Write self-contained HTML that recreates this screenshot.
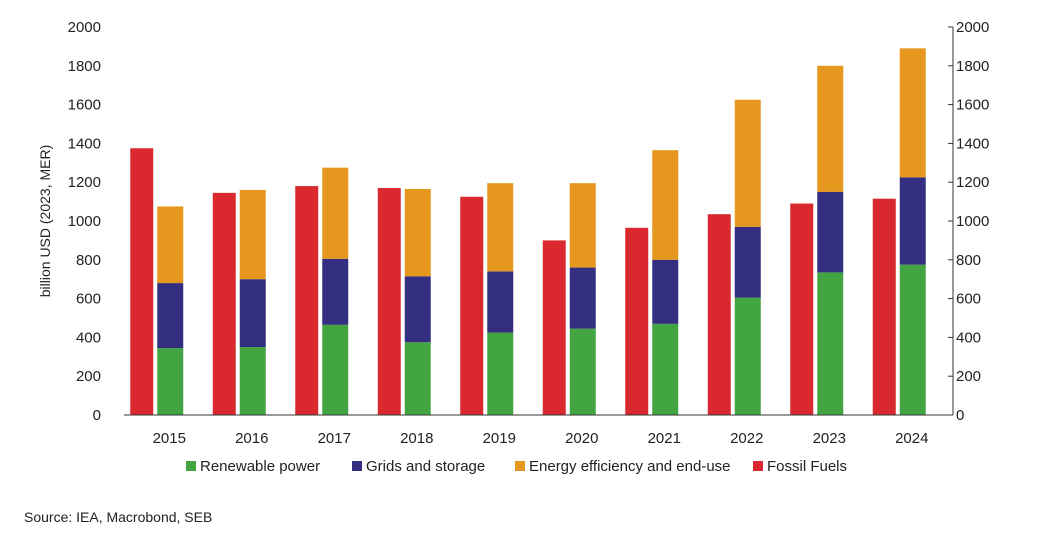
<!DOCTYPE html>
<html><head><meta charset="utf-8"><style>
body{margin:0;background:#fff;font-family:"Liberation Sans",sans-serif;}
svg text{font-family:"Liberation Sans",sans-serif;fill:#222;}
</style></head><body>
<svg id="c" width="1050" height="534"></svg>
<script>
const years=["2015","2016","2017","2018","2019","2020","2021","2022","2023","2024"];
const fossil=[1375,1145,1180,1170,1125,900,965,1035,1090,1115];
const renewable=[345,350,465,375,425,445,470,605,735,775];
const grids=[335,350,340,340,315,315,330,365,415,450];
const efficiency=[395,460,470,450,455,435,565,655,650,665];
const ticks=[0,200,400,600,800,1000,1200,1400,1600,1800,2000];
const NS="http://www.w3.org/2000/svg";
const svg=document.getElementById('c');
const L=128,R=953,T=27,B=415;
const y=v=>B-(v/2000)*(B-T);
const step=(R-L)/years.length;
function mk(t,a,p){const e=document.createElementNS(NS,t);for(const k in a)e.setAttribute(k,a[k]);(p||svg).appendChild(e);return e;}
const C={f:"#d9292f",r:"#42a541",g:"#332e7f",e:"#e5971e"};
ticks.forEach(t=>{
 let a=mk('text',{x:L-27,y:y(t)+5,'text-anchor':'end','font-size':15});a.textContent=t;
 
 let b=mk('text',{x:R+3,y:y(t)+5,'font-size':15});b.textContent=t;
 
 mk('line',{x1:R-5,x2:R,y1:y(t),y2:y(t),stroke:'#333'});
});
mk('line',{x1:R,x2:R,y1:T,y2:B,stroke:'#333'});
years.forEach((yr,i)=>{
 const c=L+step*(i+0.5);
 let f=mk('rect',{x:c-39,y:y(fossil[i]),width:23,height:B-y(fossil[i]),fill:C.f});
 
 let base=0;
 [[renewable,C.r,'renewable'],[grids,C.g,'grids'],[efficiency,C.e,'efficiency']].forEach(([arr,col,n])=>{
  const top=base+arr[i];
  let r=mk('rect',{x:c-12,y:y(top),width:26,height:y(base)-y(top),fill:col});
  
  base=top;
 });
 let t=mk('text',{x:c,y:443,'text-anchor':'middle','font-size':15});t.textContent=yr;
 
});
mk('line',{x1:L-4,x2:R,y1:B,y2:B,stroke:'#333'});
let yt=mk('text',{x:0,y:0,'font-size':14,'text-anchor':'middle',transform:`translate(50,${(T+B)/2}) rotate(-90)`});
yt.textContent='billion USD (2023, MER)';

const leg=[["Renewable power",C.r,186],["Grids and storage",C.g,352],["Energy efficiency and end-use",C.e,515],["Fossil Fuels",C.f,753]];
leg.forEach(([n,col,x])=>{
 const g=mk('g',{});
 
 mk('rect',{x:x,y:461,width:10,height:10,fill:col},g);
 let t=mk('text',{x:x+14,y:471,'font-size':15},g);t.textContent=n;
});
let s=mk('text',{x:24,y:522,'font-size':14});s.textContent='Source: IEA, Macrobond, SEB';

</script>
</body></html>
